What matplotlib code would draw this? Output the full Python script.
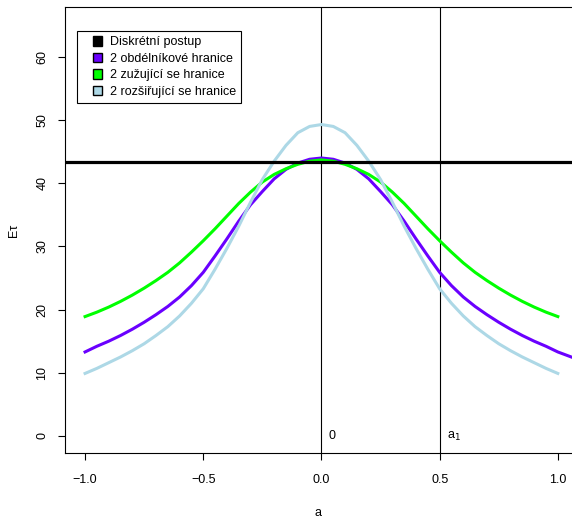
import matplotlib
matplotlib.use("Agg")
import matplotlib.pyplot as plt
from matplotlib.patches import Patch, Rectangle
from matplotlib.legend_handler import HandlerPatch

plt.rcParams["font.family"] = ["Liberation Sans", "DejaVu Sans"]

# values (curves are symmetric around a = 0)
a_half = [0.0, 0.05, 0.1, 0.15, 0.2, 0.25, 0.3, 0.35, 0.4, 0.45, 0.5,
          0.55, 0.6, 0.65, 0.7, 0.75, 0.8, 0.85, 0.9, 0.95, 1.0]
obdelnik_half = [44.0, 43.8, 43.2, 42.2, 40.7, 38.7, 36.6, 34.0, 31.2, 28.5, 25.9,
                 23.8, 22.0, 20.5, 19.2, 18.0, 16.9, 15.9, 15.0, 14.2, 13.3]
zuzujici_half = [43.7, 43.5, 43.0, 42.3, 41.4, 40.2, 38.6, 36.8, 34.8, 32.8, 30.9,
                 29.1, 27.4, 25.9, 24.6, 23.4, 22.3, 21.3, 20.4, 19.6, 18.9]
rozsirujici_half = [49.3, 49.0, 48.0, 46.0, 43.5, 40.6, 37.0, 33.2, 29.7, 26.4, 23.3,
                    21.0, 19.0, 17.3, 15.9, 14.6, 13.5, 12.5, 11.6, 10.7, 9.9]
obdelnik_tail_a = [1.05, 1.1]   # purple curve runs past the right edge
obdelnik_tail = [12.6, 11.9]

diskretni = 43.4
a1 = 0.5


def mirror(half):
    return list(reversed(half[1:])) + list(half)


a = [-v for v in reversed(a_half[1:])] + a_half

fig = plt.figure(figsize=(5.72, 5.2), dpi=100)
ax = fig.add_axes([0.1136, 0.1288, 0.8864, 0.8577])

ax.axhline(diskretni, color="black", lw=2.3, zorder=3)
ax.axvline(0, color="black", lw=0.8)
ax.axvline(a1, color="black", lw=0.8)

ax.plot(a + obdelnik_tail_a, mirror(obdelnik_half) + obdelnik_tail, color="#6a00ff", lw=2.2)
ax.plot(a, mirror(zuzujici_half), color="#00ff00", lw=2.2)
ax.plot(a, mirror(rozsirujici_half), color="#add8e6", lw=2.2)

ax.text(0.03, 0, "0", ha="left", va="center", fontsize=9)
ax.text(a1 + 0.03, 0, "a$_1$", ha="left", va="center", fontsize=9)

ax.set_xlim(-1.085, 1.06)
ax.set_ylim(-2.7, 67.9)
ax.set_xticks([-1.0, -0.5, 0.0, 0.5, 1.0])
ax.set_xticklabels(["\u22121.0", "\u22120.5", "0.0", "0.5", "1.0"])
ax.set_yticks(range(0, 70, 10))
ax.tick_params(axis="both", direction="out", length=5, width=0.8, labelsize=9)
ax.tick_params(axis="x", pad=10)
ax.tick_params(axis="y", pad=7)
for lab in ax.get_yticklabels():
    lab.set_rotation(90)
    lab.set_va("center")
ax.spines["right"].set_visible(False)
for s in ["left", "bottom", "top"]:
    ax.spines[s].set_linewidth(0.8)

ax.set_xlabel("a", fontsize=9, labelpad=15)
ax.set_ylabel("E\u03c4", fontsize=9, labelpad=12)


def square(legend, orig_handle, xdescent, ydescent, width, height, fontsize):
    s = 0.75 * fontsize
    return Rectangle((-xdescent + width - s, -ydescent + (height - s) / 2), s, s)


handles = [
    Patch(facecolor="black", edgecolor="black", label="Diskrétní postup"),
    Patch(facecolor="#6a00ff", edgecolor="black", label="2 obdélníkové hranice"),
    Patch(facecolor="#00ff00", edgecolor="black", label="2 zužující se hranice"),
    Patch(facecolor="#add8e6", edgecolor="black", label="2 rozšiřující se hranice"),
]
leg = ax.legend(handles=handles, loc="upper left", bbox_to_anchor=(0.024, 0.946),
                borderaxespad=0, fontsize=9, fancybox=False, framealpha=1,
                edgecolor="black", handlelength=1.6, handleheight=0.8,
                handletextpad=0.6, labelspacing=0.36, borderpad=0.4,
                handler_map={Patch: HandlerPatch(patch_func=square)})
leg.get_frame().set_linewidth(0.8)

fig.savefig("out.png", dpi=100)
